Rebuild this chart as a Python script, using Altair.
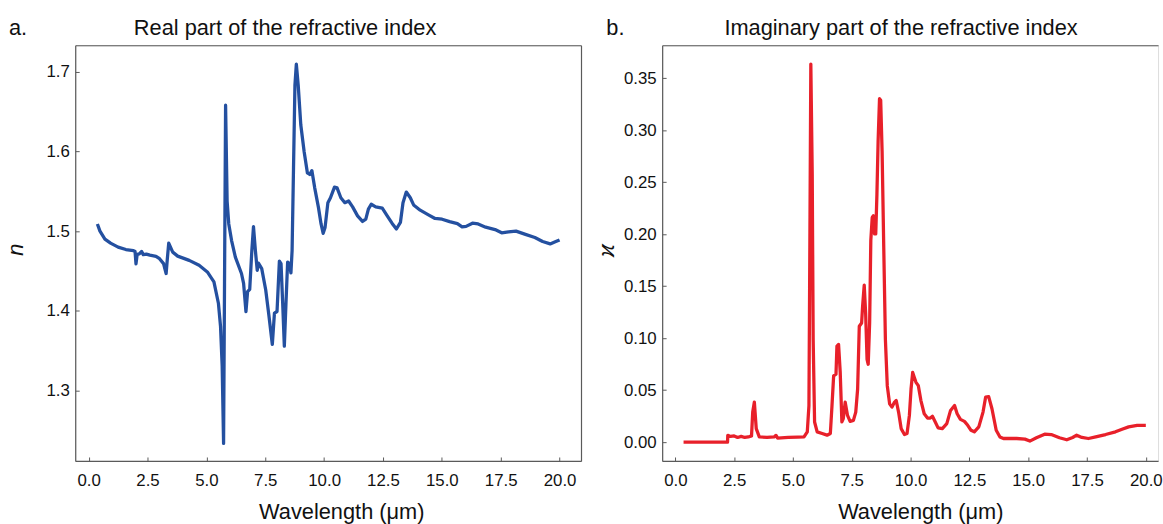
import altair as alt
import pandas as pd

# ---- Real part of the refractive index (n) ----
wl_n = [0.37, 0.48, 0.69, 0.93, 1.25, 1.58, 1.90, 1.97, 2.01, 2.06, 2.15, 2.25, 2.32, 2.45,
        2.60, 2.86, 3.01, 3.18, 3.29, 3.34, 3.40, 3.57, 3.78, 4.27, 4.69, 5.04, 5.32, 5.51,
        5.60, 5.67, 5.73, 5.77, 5.815, 5.88, 5.95, 6.07, 6.23, 6.49, 6.58, 6.68, 6.75, 6.84,
        6.93, 7.00, 7.08, 7.16, 7.21, 7.35, 7.52, 7.66, 7.80, 7.89, 8.00, 8.10, 8.17, 8.24,
        8.31, 8.38, 8.45, 8.53, 8.59, 8.64, 8.70, 8.76, 8.82, 8.90, 9.01, 9.15, 9.29, 9.39,
        9.48, 9.60, 9.76, 9.87, 9.96, 10.04, 10.16, 10.27, 10.44, 10.55, 10.71, 10.88, 11.04,
        11.21, 11.42, 11.63, 11.77, 11.88, 12.00, 12.19, 12.47, 12.68, 12.89, 13.07, 13.24,
        13.35, 13.49, 13.66, 13.80, 14.08, 14.43, 14.71, 15.01, 15.33, 15.66, 15.86, 16.03,
        16.30, 16.54, 16.86, 17.26, 17.54, 17.83, 18.15, 18.55, 18.95, 19.28, 19.60, 19.84,
        20.00]
n_vals = [1.509, 1.500, 1.490, 1.485, 1.480, 1.477, 1.4757, 1.4745, 1.459, 1.471, 1.4715,
          1.4745, 1.4705, 1.4712, 1.4699, 1.4685, 1.4655, 1.4593, 1.4469, 1.4650, 1.4849,
          1.4737, 1.4687, 1.4634, 1.4572, 1.4489, 1.4365, 1.4097, 1.3807, 1.3310, 1.2339,
          1.4345, 1.6578, 1.5378, 1.5090, 1.4882, 1.4675, 1.4469, 1.4345, 1.3993, 1.4241,
          1.4270, 1.4758, 1.5056, 1.4758, 1.4510, 1.4600, 1.4531, 1.4262, 1.3930, 1.3580,
          1.3973, 1.3993, 1.4625, 1.4593, 1.4097, 1.3558, 1.4097, 1.4613, 1.4593, 1.4477,
          1.4758, 1.5792, 1.6826, 1.7094, 1.6826, 1.6330, 1.5999, 1.5730, 1.5710, 1.5759,
          1.5543, 1.5295, 1.5090, 1.4973, 1.5047, 1.5357, 1.5419, 1.5552, 1.5543, 1.5419,
          1.5357, 1.5378, 1.5304, 1.5192, 1.5122, 1.5151, 1.5276, 1.5337, 1.5304, 1.5288,
          1.5192, 1.5097, 1.5027, 1.5109, 1.5357, 1.5490, 1.5419, 1.5329, 1.5263, 1.5205,
          1.5159, 1.5150, 1.5120, 1.5095, 1.5054, 1.5060, 1.5100, 1.5090, 1.5050, 1.5020,
          1.4980, 1.4990, 1.5000, 1.4960, 1.4920, 1.4870, 1.4840, 1.4870, 1.4890]

# ---- Imaginary part of the refractive index (kappa) ----
wl_k = [0.35, 2.22, 2.23, 2.35, 2.50, 2.65, 2.80, 2.95, 3.10, 3.24, 3.29, 3.36, 3.44, 3.57,
        3.90, 4.20, 4.28, 4.35, 4.80, 5.20, 5.47, 5.61, 5.68, 5.72, 5.76, 5.82, 5.86, 5.92,
        6.03, 6.24, 6.45, 6.59, 6.66, 6.73, 6.83, 6.87, 6.94, 7.01, 7.08, 7.14, 7.22, 7.32,
        7.43, 7.57, 7.67, 7.75, 7.82, 7.92, 7.96, 8.03, 8.09, 8.15, 8.20, 8.26, 8.31, 8.37,
        8.42, 8.47, 8.52, 8.57, 8.62, 8.68, 8.73, 8.79, 8.86, 8.93, 9.01, 9.11, 9.21, 9.32,
        9.39, 9.49, 9.60, 9.74, 9.85, 9.95, 10.02, 10.09, 10.16, 10.23, 10.33, 10.44, 10.58,
        10.72, 10.84, 10.93, 11.05, 11.17, 11.35, 11.54, 11.70, 11.87, 11.98, 12.12, 12.29,
        12.43, 12.57, 12.71, 12.90, 13.08, 13.19, 13.32, 13.46, 13.64, 13.80, 13.95, 14.51,
        14.86, 15.07, 15.35, 15.70, 15.98, 16.33, 16.64, 16.89, 17.06, 17.28, 17.56, 17.87,
        18.29, 18.71, 18.99, 19.27, 19.63, 20.00]
k_vals = [0.0, 0.0, 0.0065, 0.0055, 0.006, 0.0045, 0.0055, 0.0045, 0.005, 0.006, 0.0289,
          0.0385, 0.013, 0.0051, 0.0045, 0.005, 0.0065, 0.0038, 0.0045, 0.0048, 0.0051,
          0.0099, 0.0352, 0.1939, 0.3636, 0.2574, 0.0987, 0.0194, 0.0099, 0.0083, 0.0067,
          0.0083, 0.0352, 0.0638, 0.0654, 0.0923, 0.0939, 0.0670, 0.0194, 0.0226, 0.0385,
          0.0257, 0.0200, 0.0209, 0.0289, 0.0511, 0.1114, 0.1146, 0.1304, 0.1511, 0.1241,
          0.0797, 0.0749, 0.1146, 0.1939, 0.2161, 0.2177, 0.2003, 0.2003, 0.2383, 0.2891,
          0.3303, 0.3288, 0.2796, 0.1875, 0.0987, 0.0543, 0.0368, 0.0337, 0.0385, 0.0400,
          0.0289, 0.0130, 0.0073, 0.0083, 0.0257, 0.0511, 0.0670, 0.0622, 0.0575, 0.0543,
          0.0400, 0.0273, 0.0232, 0.0232, 0.0248, 0.0194, 0.0137, 0.0130, 0.0178, 0.0305,
          0.0352, 0.0273, 0.0219, 0.0200, 0.0162, 0.0114, 0.0099, 0.0147, 0.0289, 0.0432,
          0.0438, 0.0321, 0.0114, 0.0050, 0.0035, 0.0035, 0.0029, 0.0010, 0.0042, 0.0076,
          0.0073, 0.0042, 0.0023, 0.0045, 0.0067, 0.0045, 0.0035, 0.0051, 0.0073, 0.0099,
          0.0124, 0.0147, 0.0162, 0.0162]

x_ticks = [0, 2.5, 5, 7.5, 10, 12.5, 15, 17.5, 20]
n_ticks = [1.3, 1.4, 1.5, 1.6, 1.7]
k_ticks = [0, 0.05, 0.10, 0.15, 0.20, 0.25, 0.30, 0.35]

FONT = "Liberation Sans"
FRAME = "#5a5a5a"
TXT = "#111111"


def panel(df, ycol, color, xdom, ydom, yticks, yfmt, ytitle, ytx, yty, top_title, top_tx,
          xtx, label, label_dx, width, right_frame):
    xs = alt.Scale(domain=xdom, nice=False, zero=False)
    ys = alt.Scale(domain=ydom, nice=False, zero=False)
    base = alt.Chart(df)
    main = base.mark_line(color=color, strokeWidth=3.3, strokeJoin="round").encode(
        x=alt.X("wl:Q", scale=xs, axis=alt.Axis(
            orient="bottom", values=x_ticks, format=".1f", ticks=False, grid=False,
            domainColor=FRAME, domainWidth=1.2, labelFont=FONT, labelFontSize=17,
            labelColor=TXT, labelPadding=12, labelFlush=False, labelOverlap=False,
            title="Wavelength (μm)", titleFont=FONT, titleFontSize=22, titleFontWeight="normal",
            titleColor=TXT, titleX=xtx, titleY=58, titleBaseline="alphabetic",
            titleAlign="center")),
        y=alt.Y(f"{ycol}:Q", scale=ys, axis=alt.Axis(
            orient="left", values=yticks, format=yfmt, ticks=False, grid=False,
            domainColor=FRAME, domainWidth=1.2, labelFont=FONT, labelFontSize=17,
            labelColor=TXT, labelPadding=6, labelFlush=False, labelOverlap=False,
            title=ytitle, titleFont=FONT, titleFontSize=22, titleFontWeight="normal",
            titleFontStyle="italic", titleColor=TXT, titleAngle=270, titleX=ytx, titleY=yty,
            titleBaseline="alphabetic", titleAlign="center")),
    )
    tick_layer = base.mark_line(strokeOpacity=0).encode(
        x=alt.X("wl:Q", scale=xs, axis=alt.Axis(
            orient="bottom", values=x_ticks, offset=-4, ticks=True, tickSize=4,
            tickColor=FRAME, tickWidth=1, labels=False, domain=False, grid=False, title=None)),
        y=alt.Y(f"{ycol}:Q", scale=ys, axis=alt.Axis(
            orient="left", values=yticks, offset=-4, ticks=True, tickSize=4,
            tickColor=FRAME, tickWidth=1, labels=False, domain=False, grid=False,
            title=None)),
    )
    if right_frame:
        y_top = alt.Y(f"{ycol}:Q", scale=ys, axis=alt.Axis(
            orient="right", ticks=False, labels=False, grid=False, domainColor=FRAME,
            domainWidth=1.2, title=None))
    else:
        y_top = alt.Y(f"{ycol}:Q", scale=ys, axis=None)
    top_layer = base.mark_line(strokeOpacity=0).encode(
        x=alt.X("wl:Q", scale=xs, axis=alt.Axis(
            orient="top", ticks=False, labels=False, grid=False, domainColor=FRAME,
            domainWidth=1.2, title=top_title, titleFont=FONT, titleFontSize=22,
            titleFontWeight="normal", titleColor=TXT, titleX=top_tx, titleY=-11,
            titleBaseline="alphabetic", titleAlign="center")),
        y=y_top,
    )
    return alt.layer(main, tick_layer, top_layer).resolve_axis(
        x="independent", y="independent"
    ).properties(
        width=width, height=420,
        title=alt.TitleParams(label, anchor="start", frame="group", dx=label_dx, dy=41,
                              baseline="alphabetic", fontSize=22, font=FONT,
                              fontWeight="normal", color=TXT, offset=0),
    )


df_n = pd.DataFrame({"wl": wl_n, "n": n_vals})
df_k = pd.DataFrame({"wl": wl_k, "k": k_vals})

left = panel(df_n, "n", "#2450A0", [-0.571, 20.91], [1.212, 1.733], n_ticks, ".1f", "n",
             -53.7, 206, "Real part of the refractive index", 211.5, 268.8, "a.", -67, 511,
             True)
right = panel(df_k, "k", "#E8202A", [-0.559, 20.52], [-0.0181, 0.3817], k_ticks, ".2f", "ϰ",
              -48.7, 207, "Imaginary part of the refractive index", 240.8, 260.8, "b.", -56.4,
              501, False)

chart = alt.hconcat(left, right, spacing=13).properties(
    padding={"left": 3, "top": 13, "right": 0, "bottom": 0}
).configure_view(strokeWidth=0, stroke="transparent").configure(background="white")

chart.save("out.html", embed_options={"renderer": "svg", "actions": False})
